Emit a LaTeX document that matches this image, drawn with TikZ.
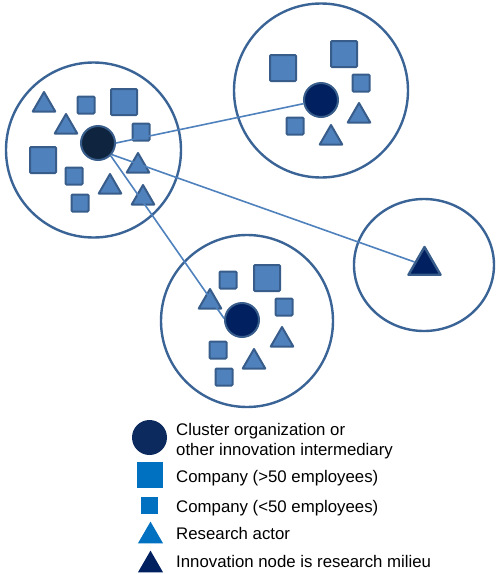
\documentclass[tikz,border=0pt]{standalone}
\usepackage{fontspec}
\setmainfont{Liberation Sans}
\usetikzlibrary{shapes.geometric}
\definecolor{ringc}{HTML}{3A6396}
\definecolor{shapefill}{HTML}{4F81BD}
\definecolor{shapeedge}{HTML}{385D8A}
\definecolor{linkc}{HTML}{4F81BD}
\definecolor{hubA}{HTML}{0F243E}
\definecolor{hubB}{HTML}{002060}
\definecolor{legnavy}{HTML}{0D2A5E}
\definecolor{legblue}{HTML}{0070C0}
\tikzset{
  ring/.style={circle, draw=ringc, line width=2.4pt, inner sep=0pt},
  sq/.style={rectangle, draw=shapeedge, fill=shapefill, line width=2pt, rounded corners=1pt, inner sep=0pt},
  bigsq/.style={sq, minimum size=26pt},
  smsq/.style={sq, minimum size=17pt},
  tri/.style={regular polygon, regular polygon sides=3, draw=shapeedge, fill=shapefill, line width=2pt, line join=round, minimum size=26pt, inner sep=0pt, yshift=-3pt},
  hub/.style={circle, draw=shapeedge, line width=2pt, minimum size=34pt, inner sep=0pt},
  link/.style={draw=linkc, line width=1.6pt},
  legtri/.style={regular polygon, regular polygon sides=3, minimum size=29pt, inner sep=0pt, yshift=-3.6pt},
  legtext/.style={anchor=base west, inner sep=0pt, font=\fontsize{16.8}{20}\selectfont}
}
\begin{document}
\begin{tikzpicture}[x=1pt,y=-1pt]
\useasboundingbox (0,0) rectangle (498,574);
% clusters
\node[ring, minimum size=175pt] (c1) at (93.5,150) {};
\node[ring, minimum size=174pt] (c2) at (321,90.5) {};
\node[ring, minimum size=172pt] (c3) at (247,321) {};
\node[ring, ellipse, minimum width=140pt, minimum height=132pt] (c4) at (424,265) {};
% cluster 1 members
\node[tri] (a1) at (44,102) {};
\node[smsq] (a2) at (86,105) {};
\node[bigsq] (a3) at (124,102) {};
\node[tri] (a4) at (66,124) {};
\node[smsq] (a5) at (141,132) {};
\node[bigsq] (a6) at (43,160) {};
\node[smsq] (a7) at (74,176) {};
\node[tri] (a8) at (138,163) {};
\node[tri] (a9) at (110,184) {};
\node[tri] (a10) at (143,195) {};
\node[smsq] (a11) at (80,203) {};
% cluster 2 members
\node[bigsq] (b1) at (283,68) {};
\node[bigsq] (b2) at (344,54) {};
\node[smsq] (b3) at (361,83) {};
\node[smsq] (b4) at (295,126) {};
\node[tri] (b5) at (331,135) {};
\node[tri] (b6) at (359,113) {};
% cluster 3 members
\node[smsq] (d1) at (228,280) {};
\node[bigsq] (d2) at (267,278) {};
\node[smsq] (d3) at (284,307) {};
\node[tri] (d4) at (210,299) {};
\node[smsq] (d5) at (218,350) {};
\node[tri] (d6) at (254,359) {};
\node[tri] (d7) at (282,337) {};
\node[smsq] (d8) at (224,377) {};
% hubs
\node[hub, fill=hubA] (h1) at (98,143) {};
\node[hub, fill=hubB] (h2) at (321,100) {};
\node[hub, fill=hubB] (h3) at (242,320) {};
\node[tri, fill=hubB, line width=2.4pt, minimum size=37pt, yshift=-1.5pt] (t4) at (424.5,261) {};
% links
\draw[link] (h1.east) -- (h2);
\draw[link] (h1.-40) -- (t4);
\draw[link] (h1.-45) -- (h3.175);
% legend
\node[circle, fill=legnavy, minimum size=35pt, inner sep=0pt] (l1) at (149.5,437.5) {};
\node[rectangle, fill=legblue, minimum size=26pt, inner sep=0pt] (l2) at (150,475) {};
\node[rectangle, fill=legblue, minimum size=17pt, inner sep=0pt] (l3) at (149.5,505) {};
\node[legtri, fill=legblue] (l4) at (150.5,532.5) {};
\node[legtri, fill=hubB] (l5) at (150.5,561.5) {};
\node[legtext] (t1) at (176,435) {Cluster organization or};
\node[legtext] (t1b) at (176,455) {other innovation intermediary};
\node[legtext] (t2) at (176,482) {Company (>50 employees)};
\node[legtext] (t3) at (176,512) {Company (<50 employees)};
\node[legtext] (t4l) at (176,539) {Research actor};
\node[legtext] (t5) at (176,567) {Innovation node is research milieu};
\end{tikzpicture}
\end{document}
